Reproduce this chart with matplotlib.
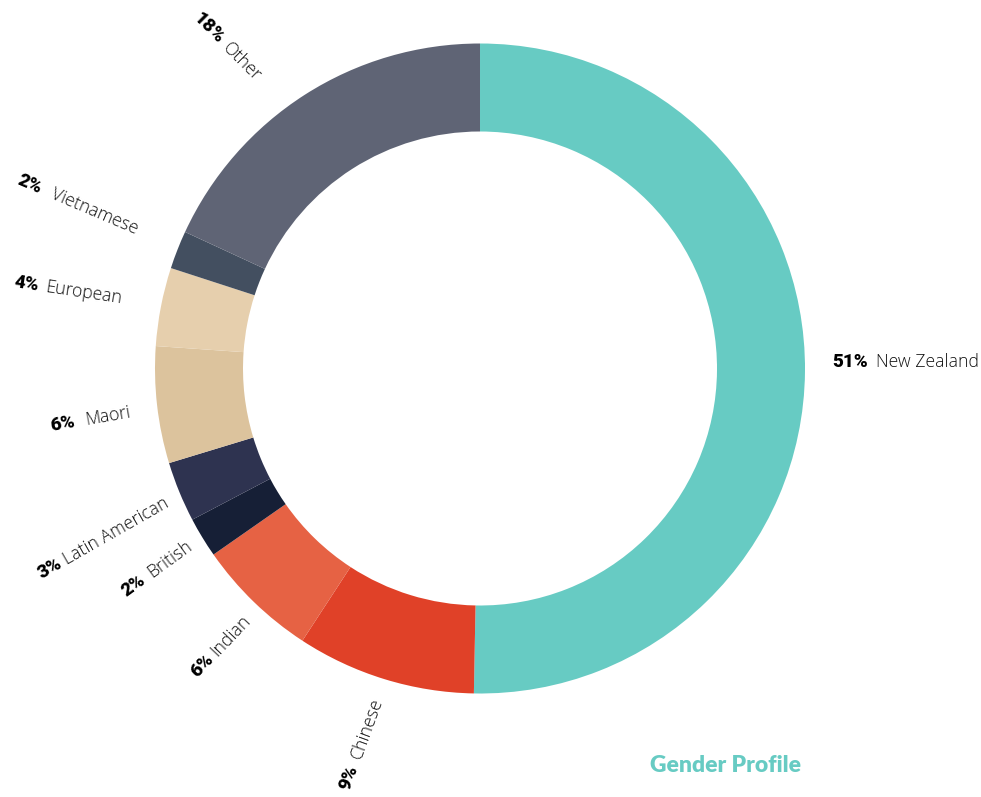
import numpy as np
import matplotlib
matplotlib.use("Agg")
import matplotlib.pyplot as plt
from matplotlib.textpath import TextPath
from matplotlib.font_manager import FontProperties

# data (clockwise from 12 o'clock)
groups = ["New Zealand", "Chinese", "Indian", "British", "Latin American",
          "Maori", "European", "Vietnamese", "Other"]
shares = [50.3, 8.9, 6.1, 2.0, 3.0, 5.8, 3.9, 1.9, 18.1]
pct_labels = ["51%", "9%", "6%", "2%", "3%", "6%", "4%", "2%", "18%"]
colors = ["#67cbc3", "#e04128", "#e66244", "#161f36", "#2e3350",
          "#dcc39d", "#e6cfad", "#434f60", "#5f6475"]

# label layout: angle (clockwise from top), distance from centre, text rotation
lab_ang = [88.9, 197.2, 223, 238.7, 246.9, 262.9, 281.1, 292, 322.6]
lab_r = [352, 346, 341, 339, 340, 352, 365, 370, 365]
lab_rot = [0, 70, 46.5, 36, 29.7, 10, -8.6, -23, -45]
lab_gap = [10, 10, 8, 10, 8, 14, 10, 12, 8]

fig = plt.figure(figsize=(9.81, 7.97), dpi=100)
ax = fig.add_axes([0, 0, 1, 1])

cx, cy = 480, 797 - 368.5
R = 325
ring = 88

ax.pie(shares, colors=colors, startangle=90, counterclock=False,
       radius=R, center=(cx, cy),
       wedgeprops=dict(width=ring, linewidth=0))
ax.set_xlim(0, 981)
ax.set_ylim(0, 797)
ax.set_aspect("equal")
ax.axis("off")

name_fp = FontProperties(family="Open Sans", weight="light", size=12.7)
pct_fp = FontProperties(family="Roboto", weight="black", size=13.5)
px = 100 / 72.0

def text_w(s, fp):
    return TextPath((0, 0), s, prop=fp).get_extents().width * px

for name, p, a, r, rot, g in zip(groups, pct_labels, lab_ang, lab_r, lab_rot, lab_gap):
    t = np.radians(90 - a)
    x0, y0 = cx + r * np.cos(t), cy + r * np.sin(t)
    d = np.radians(rot)
    dx, dy = np.cos(d), np.sin(d)
    if a < 180:
        # text runs outward from the ring
        ax.text(x0, y0, p, fontproperties=pct_fp, rotation=rot,
                rotation_mode="anchor", ha="left", va="center")
        s = text_w(p, pct_fp) + g
        ax.text(x0 + s * dx, y0 + s * dy, name, fontproperties=name_fp, color="#111111",
                rotation=rot, rotation_mode="anchor", ha="left", va="center")
    else:
        # text ends at the ring
        ax.text(x0, y0, name, fontproperties=name_fp, color="#111111", rotation=rot,
                rotation_mode="anchor", ha="right", va="center")
        s = text_w(name, name_fp) + g
        ax.text(x0 - s * dx, y0 - s * dy, p, fontproperties=pct_fp,
                rotation=rot, rotation_mode="anchor", ha="right", va="center")

ax.text(725, 797 - 765, "Gender Profile", color="#67cbc3", fontsize=16.5,
        fontweight="heavy", family="Lato", ha="center", va="center")

fig.savefig("out.png", dpi=100)
